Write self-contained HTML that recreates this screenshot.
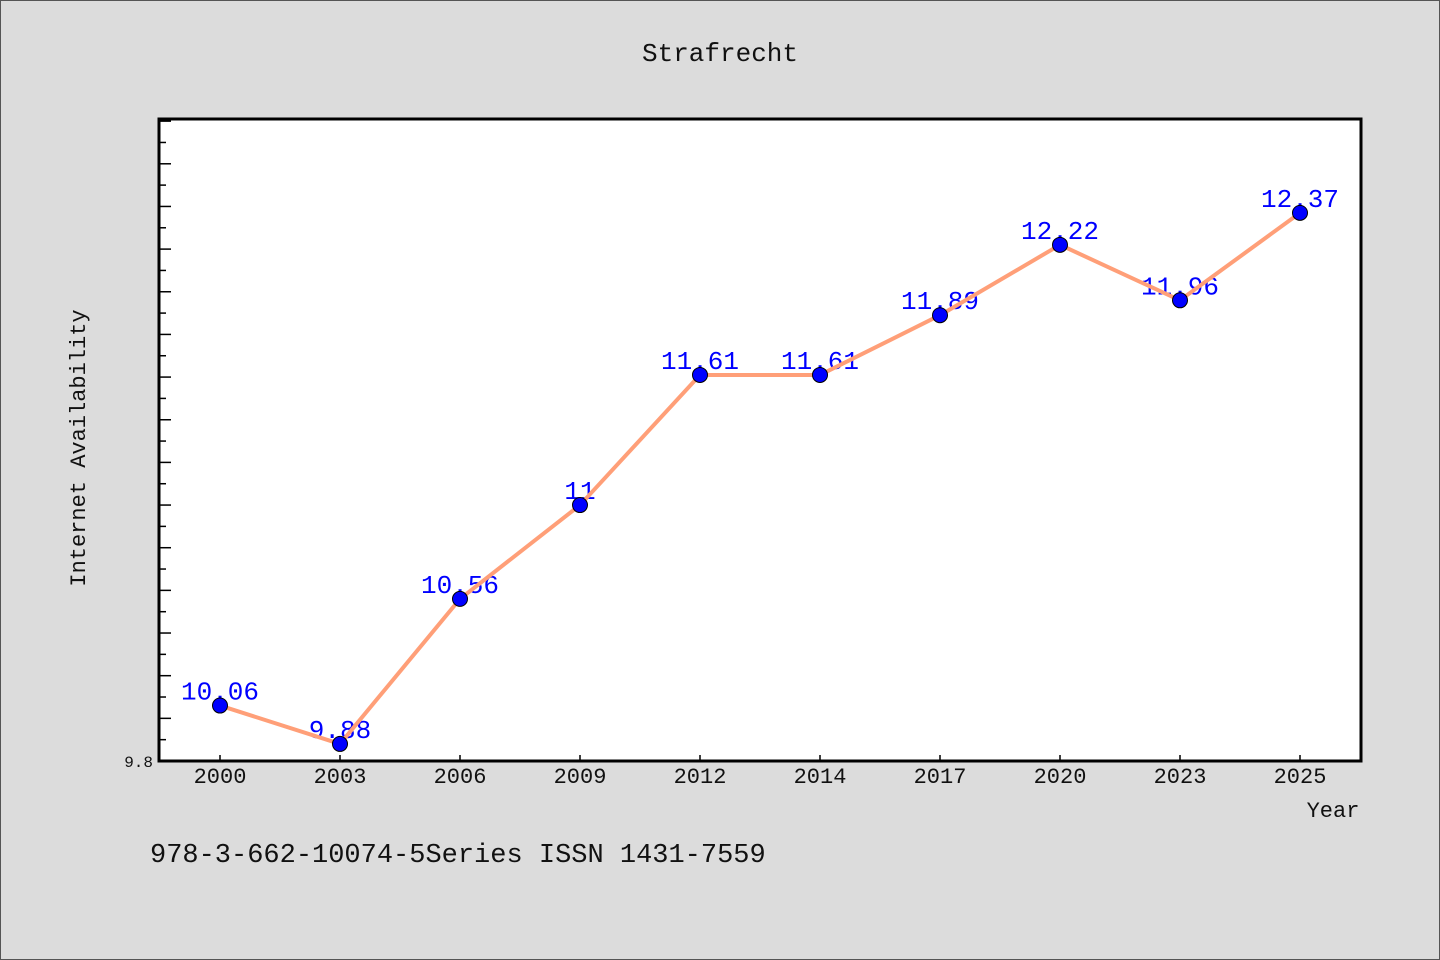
<!DOCTYPE html>
<html><head><meta charset="utf-8"><style>
body{margin:0;background:#dcdcdc;}
svg{display:block;font-family:"Liberation Mono","WenQuanYi Zen Hei",monospace;}
</style></head><body>
<svg width="1440" height="960" viewBox="0 0 1440 960" id="c">
<rect x="0.5" y="0.5" width="1439" height="959" fill="#dcdcdc" stroke="#555"/>
<text x="720" y="61" font-size="26" text-anchor="middle" fill="#111">Strafrecht</text>
<rect x="159" y="119" width="1202" height="642" fill="#fff"/>
<g id="ticks"></g>
<g id="labels"></g>
<g id="line"></g>
<g id="pts"></g>
<rect x="159" y="119" width="1202" height="642" fill="none" stroke="#000" stroke-width="3"/>
<text x="1333" y="817" font-size="22" text-anchor="middle" fill="#111">Year</text>
<text transform="translate(85,448) rotate(-90)" font-size="22" text-anchor="middle" fill="#111">Internet Availability</text>
<text x="150" y="862" font-size="27" fill="#111">978-3-662-10074-5Series ISSN 1431-7559</text>
</svg>
<script>
const categories=["2000","2003","2006","2009","2012","2014","2017","2020","2023","2025"];
const values=[10.06,9.88,10.56,11,11.61,11.61,11.89,12.22,11.96,12.37];
const valueLabels=["10.06","9.88","10.56","11","11.61","11.61","11.89","12.22","11.96","12.37"];
const yMin=9.8,yMax=12.81;
const NS="http://www.w3.org/2000/svg";
const L=159,R=1361,T=119,B=761;
function x(i){return 220+i*(1300-220)/(categories.length-1);}
function y(v){return B-(v-yMin)/(yMax-yMin)*(B-T);}
function mk(t,a,p){const e=document.createElementNS(NS,t);for(const k in a)e.setAttribute(k,a[k]);p.appendChild(e);return e;}
const tg=document.getElementById('ticks');
for(let k=1;;k++){const v=yMin+k*0.1;if(v>yMax)break;const yy=y(v);
const t=mk('line',{x1:L,x2:L+(k%2==0?12:7),y1:yy,y2:yy,stroke:'#000','stroke-width':1.5},tg);

}
const yl=mk('text',{x:153,y:767,'font-size':16,'text-anchor':'end',fill:'#111'},tg);yl.textContent="9.8";


categories.forEach((c,i)=>{
const t=mk('line',{x1:x(i),x2:x(i),y1:B,y2:B-6,stroke:'#000','stroke-width':1.5},tg);


const l=mk('text',{x:x(i),y:783,'font-size':22,'text-anchor':'middle',fill:'#111'},tg);l.textContent=c;


const d=mk('text',{x:x(i),y:y(values[i])-6,'font-size':26,'text-anchor':'middle',fill:'#0000ff'},document.getElementById('labels'));
d.textContent=valueLabels[i];


});
const pl=mk('polyline',{points:values.map((v,i)=>x(i)+','+y(v)).join(' '),fill:'none',stroke:'#ff9f78','stroke-width':4,'stroke-linejoin':'round'},document.getElementById('line'));


values.forEach((v,i)=>{
const c=mk('circle',{cx:x(i),cy:y(v),r:7.5,fill:'#0000ff',stroke:'#000','stroke-width':1},document.getElementById('pts'));


});
</script>
</body></html>
